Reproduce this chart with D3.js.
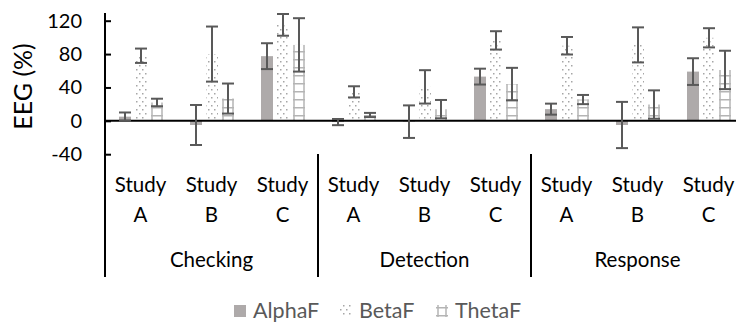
<!DOCTYPE html>
<html>
<head>
<meta charset="utf-8">
<script src="https://cdn.jsdelivr.net/npm/d3@7"></script>
<style>
  body { margin: 0; background: #fff; }
  text { font-family: Lato, "Open Sans", sans-serif; }
</style>
</head>
<body>
<div id="chart"></div>
<script>
// donnees
const groups = ["Checking", "Detection", "Response"];
const studies = ["A", "B", "C"];
const series = ["AlphaF", "BetaF", "ThetaF"];
const yTicks = [-40, 0, 40, 80, 120];

// valeurs moyennes par categorie (Checking A..C, Detection A..C, Response A..C)
const alphaF = [5, -5, 77.5, -1.5, -1, 53, 14, -5, 59];
const betaF = [78, 80, 115, 34.7, 40.7, 96.4, 90, 91, 99.5];
const thetaF = [22, 26.7, 91, 7, 14, 44, 25.5, 19.5, 61];

// erreurs
const alphaErr = [5, 24, 15.5, 3.7, 19.5, 9.5, 6.6, 27.7, 16];
const betaErr = [8.6, 33, 13, 6.7, 20, 11, 10.5, 21, 11.5];
const thetaErr = [4.5, 18, 32, 2.5, 11, 19.5, 5.5, 17, 23];

const width = 736, height = 325;
const svg = d3.select("#chart").append("svg")
    .attr("width", width)
    .attr("height", height);

// motifs
const defs = svg.append("defs");
const dots = defs.append("pattern")
    .attr("id", "dots")
    .attr("patternUnits", "userSpaceOnUse")
    .attr("width", 6).attr("height", 8);
dots.append("rect").attr("x", 1).attr("y", 1).attr("width", 1.5).attr("height", 1.5).attr("fill", "#a6a6a6");
dots.append("rect").attr("x", 4).attr("y", 5).attr("width", 1.5).attr("height", 1.5).attr("fill", "#a6a6a6");

const ladder = defs.append("pattern")
    .attr("id", "ladder")
    .attr("patternUnits", "userSpaceOnUse")
    .attr("width", 4).attr("height", 8);
ladder.append("rect").attr("x", 0).attr("y", 3).attr("width", 4).attr("height", 1.5).attr("fill", "#b4b4b4");

const categories = [];
groups.forEach(g => studies.forEach(s => categories.push(g + "|" + s)));

const x = d3.scaleBand()
    .domain(categories)
    .range([105, 744]);

const xInner = d3.scaleBand()
    .domain(series)
    .range([14, 58])
    .paddingInner(0.25);

const y = d3.scaleLinear()
    .domain([-40, 120])
    .range([154.2, 20.7]);

const data = [];
categories.forEach((c, i) => {
    data.push({ cat: c, s: "AlphaF", v: alphaF[i], e: alphaErr[i] });
    data.push({ cat: c, s: "BetaF", v: betaF[i], e: betaErr[i] });
    data.push({ cat: c, s: "ThetaF", v: thetaF[i], e: thetaErr[i] });
});

const fills = { AlphaF: "#aeaaaa", BetaF: "url(#dots)", ThetaF: "url(#ladder)" };

// barres
const bars = svg.append("g");
bars.selectAll("rect")
    .data(data)
    .enter()
    .append("rect")
    .attr("x", d => x(d.cat) + xInner(d.s))
    .attr("y", d => y(Math.max(0, d.v)))
    .attr("width", xInner.bandwidth())
    .attr("height", d => Math.abs(y(d.v) - y(0)))
    .attr("fill", d => fills[d.s]);

// montants verticaux du motif ThetaF
bars.selectAll("line.rail")
    .data(data.filter(d => d.s === "ThetaF").flatMap(d => [{ d, side: 0 }, { d, side: 1 }]))
    .enter()
    .append("line")
    .attr("class", "rail")
    .attr("x1", r => x(r.d.cat) + xInner(r.d.s) + (r.side ? xInner.bandwidth() - 1 : 1))
    .attr("x2", r => x(r.d.cat) + xInner(r.d.s) + (r.side ? xInner.bandwidth() - 1 : 1))
    .attr("y1", r => y(Math.max(0, r.d.v)))
    .attr("y2", r => y(Math.min(0, r.d.v)))
    .attr("stroke", "#b4b4b4")
    .attr("stroke-width", 1.5);

// axe des x a zero
svg.append("line")
    .attr("x1", 105).attr("x2", width)
    .attr("y1", y(0)).attr("y2", y(0))
    .attr("stroke", "#000").attr("stroke-width", 2);

// barres d'erreur
const err = svg.append("g")
    .attr("stroke", "#595959")
    .attr("stroke-width", 2);
const cx = d => x(d.cat) + xInner(d.s) + xInner.bandwidth() / 2;
err.selectAll("line.v")
    .data(data).enter().append("line")
    .attr("x1", cx).attr("x2", cx)
    .attr("y1", d => y(d.v + d.e)).attr("y2", d => y(d.v - d.e));
err.selectAll("line.top")
    .data(data).enter().append("line")
    .attr("x1", d => cx(d) - 6).attr("x2", d => cx(d) + 6)
    .attr("y1", d => y(d.v + d.e)).attr("y2", d => y(d.v + d.e));
err.selectAll("line.bot")
    .data(data).enter().append("line")
    .attr("x1", d => cx(d) - 6).attr("x2", d => cx(d) + 6)
    .attr("y1", d => y(d.v - d.e)).attr("y2", d => y(d.v - d.e));

// axe des y
const yAxis = d3.axisRight(y)
    .tickValues(yTicks)
    .tickSize(6)
    .tickFormat("");
svg.append("g")
    .attr("transform", "translate(105,0)")
    .call(yAxis)
    .call(g => g.select(".domain").remove())
    .call(g => g.selectAll("line").attr("stroke", "#000").attr("stroke-width", 2));

svg.append("line")
    .attr("x1", 105).attr("x2", 105)
    .attr("y1", 13).attr("y2", 277)
    .attr("stroke", "#000").attr("stroke-width", 2);

svg.append("g").selectAll("text")
    .data(yTicks).enter().append("text")
    .attr("x", 82)
    .attr("y", d => y(d))
    .attr("dy", "0.35em")
    .attr("text-anchor", "end")
    .attr("font-size", 20)
    .text(d => d);

svg.append("text")
    .attr("transform", "translate(32,86.5) rotate(-90)")
    .attr("text-anchor", "middle")
    .attr("font-size", 25)
    .text("EEG (%)");

// etiquettes de categories
const lab = svg.append("g").attr("font-size", 20.5).attr("text-anchor", "middle");
categories.forEach((c, i) => {
    const mid = x(c) + x.bandwidth() / 2;
    lab.append("text").attr("x", mid).attr("y", 191.5).text("Study");
    lab.append("text").attr("x", mid).attr("y", 221.5).text(studies[i % 3]);
});
groups.forEach((g, i) => {
    const x0 = x(g + "|A");
    const x1 = x(g + "|C") + x.bandwidth();
    lab.append("text").attr("x", (x0 + x1) / 2).attr("y", 267).text(g);
    if (i > 0) {
        svg.append("line")
            .attr("x1", x0).attr("x2", x0)
            .attr("y1", 154).attr("y2", 277)
            .attr("stroke", "#000").attr("stroke-width", 2);
    }
});

// legende
const legendX = [234, 340, 436];
const leg = svg.append("g");
series.forEach((s, i) => {
    const gx = legendX[i];
    leg.append("rect")
        .attr("x", gx).attr("y", 305).attr("width", 12).attr("height", 12)
        .attr("fill", fills[s]);
    if (s === "ThetaF") {
        leg.append("line").attr("x1", gx + 2).attr("x2", gx + 2).attr("y1", 305).attr("y2", 317).attr("stroke", "#b4b4b4").attr("stroke-width", 1.5);
        leg.append("line").attr("x1", gx + 10).attr("x2", gx + 10).attr("y1", 305).attr("y2", 317).attr("stroke", "#b4b4b4").attr("stroke-width", 1.5);
    }
    leg.append("text")
        .attr("x", gx + 19).attr("y", 317.5)
        .attr("font-size", 21.5)
        .attr("fill", "#595959")
        .text(s);
});
</script>
</body>
</html>
